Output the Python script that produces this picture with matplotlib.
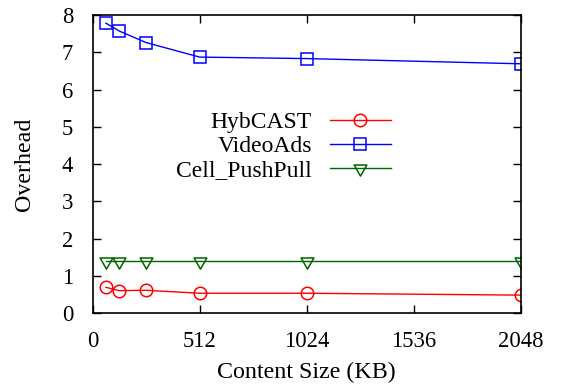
import matplotlib
matplotlib.use("Agg")
import matplotlib.pyplot as plt
from matplotlib.path import Path

plt.rcParams['font.family'] = ['Liberation Serif', 'DejaVu Serif']

# content sizes in KB
sizes = [64, 128, 256, 512, 1024, 2048]
hybcast = [0.69, 0.60, 0.61, 0.53, 0.53, 0.48]
videoads = [7.78, 7.57, 7.26, 6.87, 6.83, 6.69]
cell_pushpull = [1.39, 1.39, 1.39, 1.39, 1.39, 1.39]

x_ticks = [0, 512, 1024, 1536, 2048]
y_ticks = list(range(0, 9))

# downward triangle with the line running through its upper part (gnuplot style)
tri_down = Path([(-1.0, 0.55), (1.0, 0.55), (0.0, -1.2), (-1.0, 0.55)],
                [Path.MOVETO, Path.LINETO, Path.LINETO, Path.CLOSEPOLY])

fig = plt.figure(figsize=(5.64, 3.90), dpi=100)
ax = fig.add_axes([92.5 / 564, 1 - 313 / 390, (521 - 92.5) / 564, (313 - 15) / 390])

ax.plot(sizes, hybcast, color='#ff0000', marker='o', markersize=9,
        markerfacecolor='none', markeredgewidth=1.1, linewidth=1.0, label='HybCAST')
ax.plot(sizes, videoads, color='#0000ff', marker='s', markersize=9,
        markerfacecolor='none', markeredgewidth=1.1, linewidth=1.0, label='VideoAds')
ax.plot(sizes, cell_pushpull, color='#006400', marker=tri_down, markersize=11,
        markerfacecolor='none', markeredgewidth=1.1, linewidth=1.0, label='Cell_PushPull')

ax.set_xlim(0, 2048)
ax.set_ylim(0, 8)
ax.set_xticks(x_ticks)
ax.set_yticks(y_ticks)
ax.tick_params(direction='in', top=True, right=True, length=6, width=1,
               labelsize=16.3)
ax.tick_params(axis='x', pad=13)
ax.tick_params(axis='y', pad=14)
for s in ax.spines.values():
    s.set_linewidth(1.2)

ax.set_xlabel('Content Size (KB)', fontsize=17.3, labelpad=7)
ax.set_ylabel('Overhead', fontsize=17.3, labelpad=19)

# markerfirst=False right-aligns the rows, so labels end at the samples
ax.legend(loc='upper left', bbox_to_anchor=(0.168, 0.715), frameon=False,
          markerfirst=False, fontsize=17, handlelength=2.6,
          labelspacing=0.1, handletextpad=0.75, borderpad=0)

fig.savefig('out.png', dpi=100)
